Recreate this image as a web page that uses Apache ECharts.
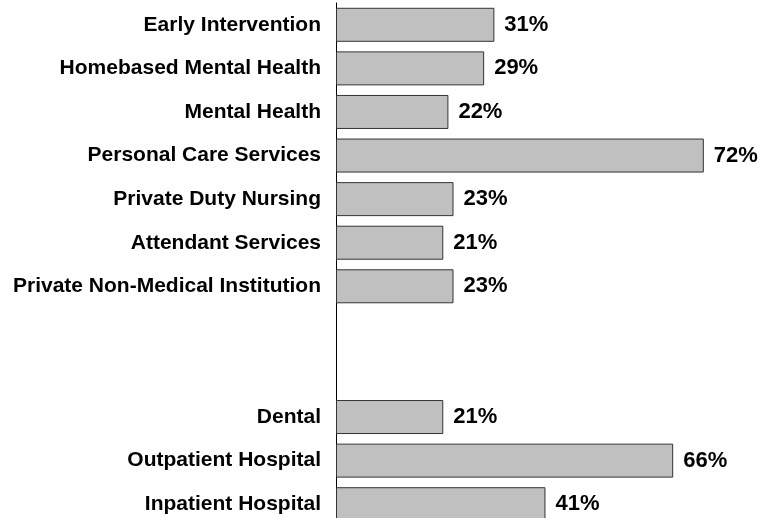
<!DOCTYPE html>
<html lang="en">
<head>
    <meta charset="UTF-8">
    <title>Services</title>
    <script src="https://cdn.jsdelivr.net/npm/echarts@6/dist/echarts.min.js"></script>
    <style>
        body { margin: 0; background: #fff; }
    </style>
</head>
<body>
<div id="main" style="width: 759px;height:518px;"></div>
<script type="text/javascript">
    // categories top to bottom, the two empty slots are the gap in the chart
    var categories = ['Early Intervention', 'Homebased Mental Health', 'Mental Health',
        'Personal Care Services', 'Private Duty Nursing', 'Attendant Services',
        'Private Non-Medical Institution', '', '', 'Dental', 'Outpatient Hospital', 'Inpatient Hospital'];
    var percents = [31, 29, 22, 72, 23, 21, 23, '-', '-', 21, 66, 41];

    var myChart = echarts.init(document.getElementById('main'));

    myChart.setOption({
        animation: false,
        grid: {
            left: 336,
            width: 423,
            top: 3,
            height: 523,
            outerBoundsMode: 'none'
        },
        xAxis: {
            type: 'value',
            min: 0,
            max: 82.8,
            show: false
        },
        yAxis: {
            type: 'category',
            data: categories,
            inverse: true,
            axisLine: { show: true, lineStyle: { color: '#000', width: 1 } },
            axisTick: { show: false },
            axisLabel: {
                color: '#000',
                fontFamily: 'Liberation Sans, Arial, sans-serif',
                fontWeight: 'bold',
                fontSize: 21,
                margin: 15
            }
        },
        series: [{
            type: 'bar',
            data: percents,
            barWidth: '78%',
            itemStyle: {
                color: '#c0c0c0',
                borderColor: '#333',
                borderWidth: 1
            },
            label: {
                show: true,
                position: 'right',
                distance: 10,
                color: '#000',
                fontFamily: 'Liberation Sans, Arial, sans-serif',
                fontWeight: 'bold',
                fontSize: 22,
                formatter: '{c}%'
            }
        }]
    });
</script>
</body>
</html>
